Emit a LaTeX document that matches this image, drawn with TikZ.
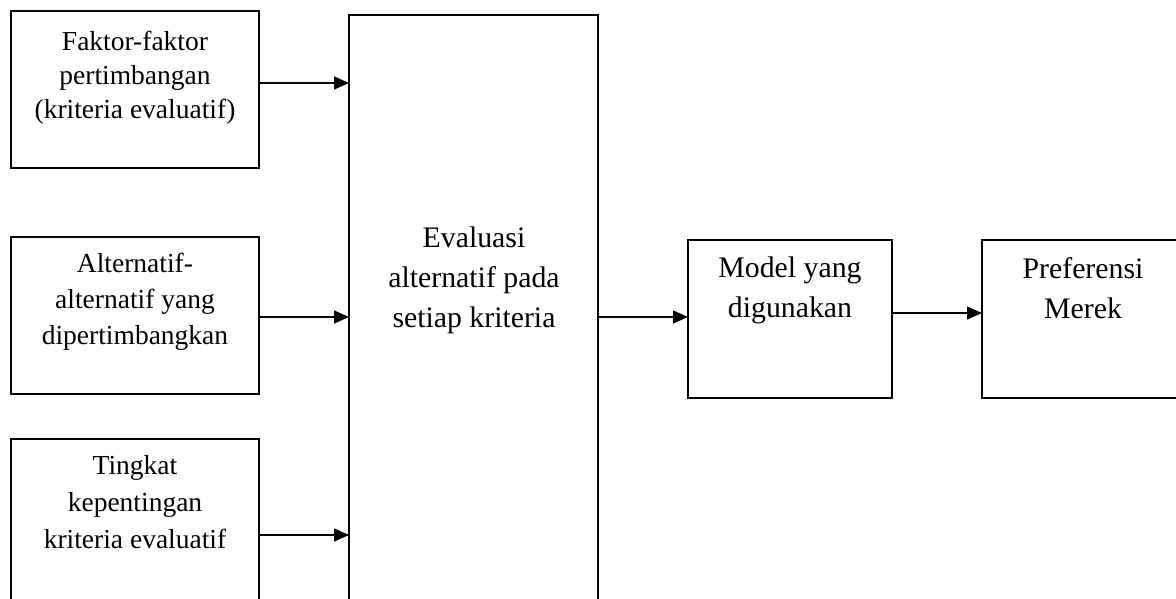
\documentclass[tikz,border=0pt]{standalone}
\usepackage{fontspec}
\setmainfont{Liberation Serif}
\usetikzlibrary{arrows.meta}
\tikzset{
  boxnode/.style={draw, line width=1.6pt, anchor=north west, inner sep=0pt, outer sep=0pt},
  sidetext/.style={anchor=base, align=center, inner sep=0pt, font=\fontsize{27.5}{#1}\selectfont},
  maintext/.style={anchor=base, align=center, inner sep=0pt, font=\fontsize{29.8}{40}\selectfont},
  arr/.style={line width=1.4pt, -{Triangle[length=15pt,width=13pt]}}
}
\begin{document}
\begin{tikzpicture}[x=1pt,y=-1pt]
\useasboundingbox (0,0) rectangle (1176,598);
\clip (0,0) rectangle (1176,598);
\node[boxnode, minimum width=248pt, minimum height=157pt] (b1) at (11,11) {};
\node[boxnode, minimum width=248pt, minimum height=157pt] (b2) at (11,237) {};
\node[boxnode, minimum width=248pt, minimum height=180pt] (b3) at (11,439) {};
\node[boxnode, minimum width=249pt, minimum height=600pt] (big) at (349,15) {};
\node[boxnode, minimum width=204pt, minimum height=158pt] (model) at (688,240) {};
\node[boxnode, minimum width=202pt, minimum height=158pt] (pref) at (982,240) {};

\node[sidetext=34pt] (t1) at (135,118) {Faktor-faktor\\pertimbangan\\(kriteria evaluatif)};
\node[sidetext=36pt] (t2) at (135,344) {Alternatif-\\alternatif yang\\dipertimbangkan};
\node[sidetext=37pt] (t3) at (135,548) {Tingkat\\kepentingan\\kriteria evaluatif};
\node[maintext] (t4) at (474,327) {Evaluasi\\alternatif pada\\setiap kriteria};
\node[maintext] (t5) at (790,317) {Model yang\\digunakan};
\node[maintext] (t6) at (1083,318) {Preferensi\\Merek};

\draw[arr] (b1.east |- 0,83) -- (big.west |- 0,83);
\draw[arr] (b2.east |- 0,317) -- (big.west |- 0,317);
\draw[arr] (b3.east |- 0,535) -- (big.west |- 0,535);
\draw[arr] (big.east |- 0,317) -- (model.west |- 0,317);
\draw[arr] (model.east |- 0,313) -- (pref.west |- 0,313);
\end{tikzpicture}
\end{document}
